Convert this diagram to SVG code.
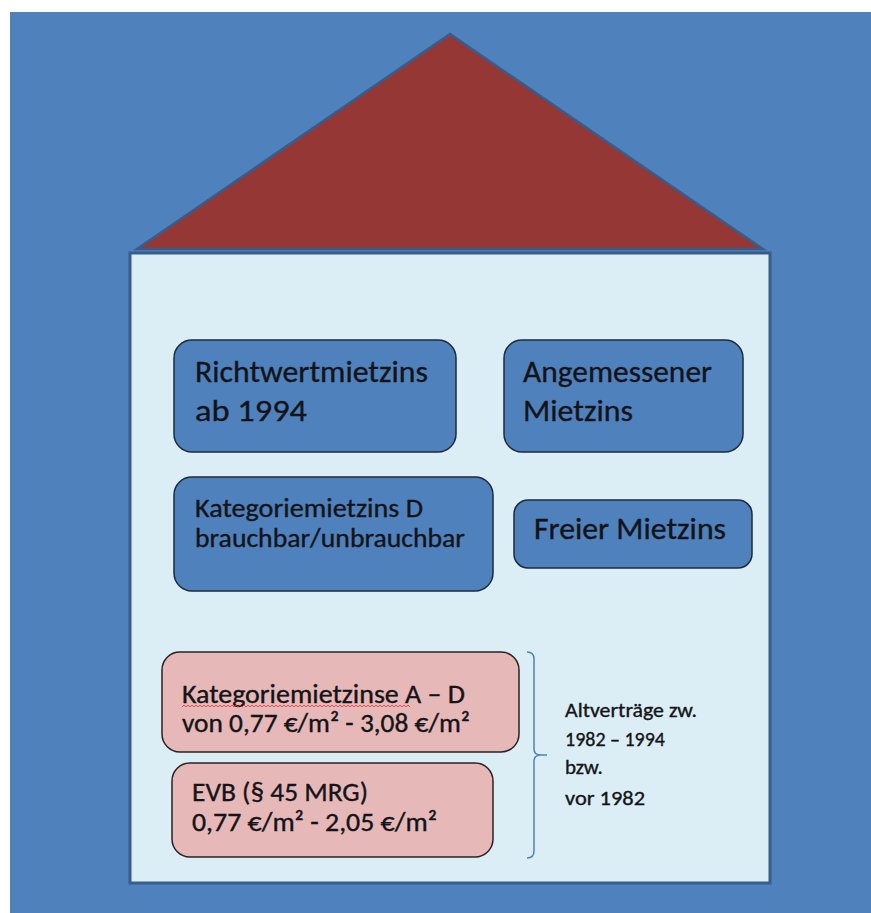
<svg xmlns="http://www.w3.org/2000/svg" width="871" height="913" viewBox="0 0 871 913">
<style>
.t{font-family:Calibri,Carlito,Lato,"Liberation Sans",sans-serif;fill:#141418;stroke:#141418;stroke-width:0.35}
.bb{fill:#4f81bd;stroke:#1e2a3a;stroke-width:1.5}
.pk{fill:#e6b9b8;stroke:#2a2222;stroke-width:1.5}
</style>
<rect x="0" y="0" width="871" height="913" fill="#ffffff"/>
<rect x="10" y="12" width="861" height="901" fill="#4f81bd"/>
<g id="house">
<rect x="130" y="253" width="640" height="630" fill="#dbeef5" stroke="#385d8a" stroke-width="3"/>
<polygon points="450,34 137,249 763,249" fill="#953735" stroke="#385d8a" stroke-width="2.5"/>
</g>
<g id="richtwert">
<rect class="bb" x="174" y="340" width="282" height="112" rx="18"/>
<text class="t" font-size="31" x="195" y="382" textLength="233" lengthAdjust="spacingAndGlyphs">Richtwertmietzins</text>
<text class="t" font-size="31" x="195" y="421" textLength="112" lengthAdjust="spacingAndGlyphs">ab 1994</text>
</g>
<g id="angemessen">
<rect class="bb" x="504" y="340" width="239" height="112" rx="18"/>
<text class="t" font-size="31" x="523" y="382" textLength="189" lengthAdjust="spacingAndGlyphs">Angemessener</text>
<text class="t" font-size="31" x="523" y="421" textLength="110" lengthAdjust="spacingAndGlyphs">Mietzins</text>
</g>
<g id="kategorieD">
<rect class="bb" x="174" y="477" width="319" height="114" rx="18"/>
<text class="t" font-size="26" x="195" y="517" textLength="228" lengthAdjust="spacingAndGlyphs">Kategoriemietzins D</text>
<text class="t" font-size="26" x="195" y="547" textLength="270" lengthAdjust="spacingAndGlyphs">brauchbar/unbrauchbar</text>
</g>
<g id="frei">
<rect class="bb" x="514" y="500" width="238" height="68" rx="14"/>
<text class="t" font-size="30" x="534" y="539" textLength="192" lengthAdjust="spacingAndGlyphs">Freier Mietzins</text>
</g>
<g id="kategorieAD">
<rect class="pk" x="162" y="652" width="357" height="100" rx="18"/>
<text class="t" font-size="26" x="182" y="703" textLength="283" lengthAdjust="spacingAndGlyphs">Kategoriemietzinse A – D</text>
<path d="M182,707 l2,-2 l2,2 l2,-2 l2,2 l2,-2 l2,2 l2,-2 l2,2 l2,-2 l2,2 l2,-2 l2,2 l2,-2 l2,2 l2,-2 l2,2 l2,-2 l2,2 l2,-2 l2,2 l2,-2 l2,2 l2,-2 l2,2 l2,-2 l2,2 l2,-2 l2,2 l2,-2 l2,2 l2,-2 l2,2 l2,-2 l2,2 l2,-2 l2,2 l2,-2 l2,2 l2,-2 l2,2 l2,-2 l2,2 l2,-2 l2,2 l2,-2 l2,2 l2,-2 l2,2 l2,-2 l2,2 l2,-2 l2,2 l2,-2 l2,2 l2,-2 l2,2 l2,-2 l2,2 l2,-2 l2,2 l2,-2 l2,2 l2,-2 l2,2 l2,-2 l2,2 l2,-2 l2,2 l2,-2 l2,2 l2,-2 l2,2 l2,-2 l2,2 l2,-2 l2,2 l2,-2 l2,2 l2,-2 l2,2 l2,-2 l2,2 l2,-2 l2,2 l2,-2 l2,2 l2,-2 l2,2 l2,-2 l2,2 l2,-2 l2,2 l2,-2 l2,2 l2,-2 l2,2 l2,-2 l2,2 l2,-2 l2,2 l2,-2 l2,2 l2,-2 l2,2 l2,-2 l2,2 l2,-2 l2,2 l2,-2 l2,2 l2,-2 l2,2 l2,-2 l2,2" fill="none" stroke="#e03030" stroke-width="0.8"/>
<text class="t" font-size="26" x="182" y="732" textLength="288" lengthAdjust="spacingAndGlyphs">von 0,77 €/m² - 3,08 €/m²</text>
</g>
<g id="evb">
<rect class="pk" x="172" y="763" width="321" height="94" rx="18"/>
<text class="t" font-size="26" x="192" y="801" textLength="176" lengthAdjust="spacingAndGlyphs">EVB (§ 45 MRG)</text>
<text class="t" font-size="26" x="192" y="831" textLength="245" lengthAdjust="spacingAndGlyphs">0,77 €/m² - 2,05 €/m²</text>
</g>
<g id="connectors">
<path d="M527,652 Q534,652 534,659 L534,749 Q534,755 541,755 L547,755 M541,755 Q534,755 534,761 L534,851 Q534,858 527,858" fill="none" stroke="#4f81bd" stroke-width="1.5"/>
</g>
<g id="altvertraege">
<text class="t" font-size="21" x="565" y="717" textLength="132" lengthAdjust="spacingAndGlyphs">Altverträge zw.</text>
<text class="t" font-size="21" x="565" y="746" textLength="100" lengthAdjust="spacingAndGlyphs">1982 – 1994</text>
<text class="t" font-size="21" x="565" y="774">bzw.</text>
<text class="t" font-size="21" x="565" y="805" textLength="80" lengthAdjust="spacingAndGlyphs">vor 1982</text>
</g>
</svg>
